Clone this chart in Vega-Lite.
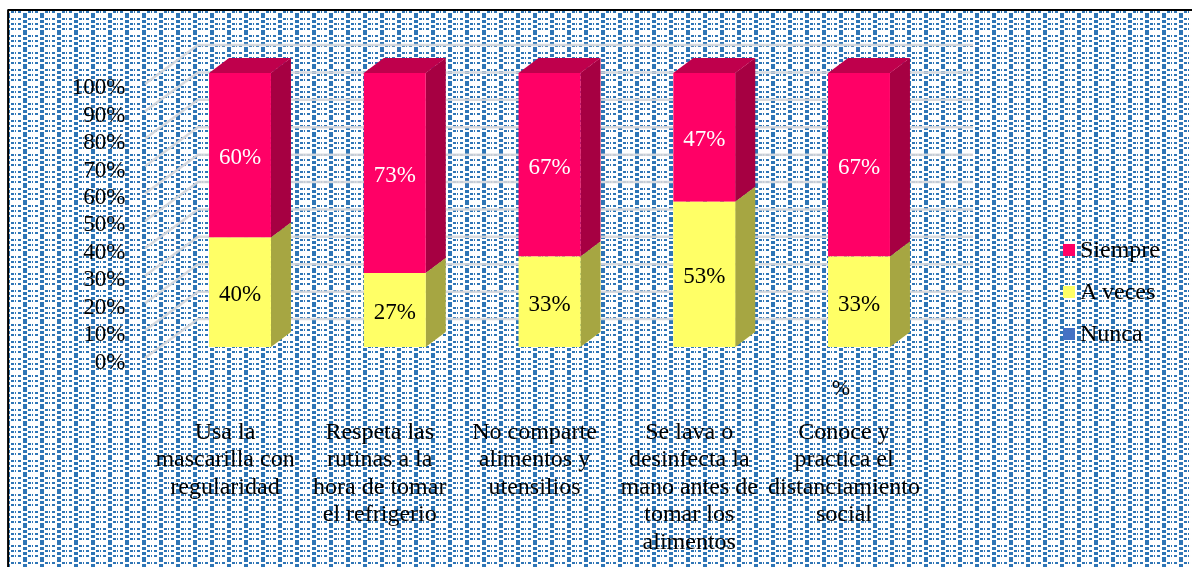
{
"$schema":"https://vega.github.io/schema/vega-lite/v6.json",
"width":1192,"height":567,"padding":0,"autosize":{"type":"none"},"background":"white",
"config":{"view":{"stroke":null},"font":"Liberation Serif"},
"datasets":{
"valores":[
{"i":1,"resp":"Siempre","v":60},{"i":1,"resp":"A veces","v":40},{"i":1,"resp":"Nunca","v":0},
{"i":2,"resp":"Siempre","v":73},{"i":2,"resp":"A veces","v":27},{"i":2,"resp":"Nunca","v":0},
{"i":3,"resp":"Siempre","v":67},{"i":3,"resp":"A veces","v":33},{"i":3,"resp":"Nunca","v":0},
{"i":4,"resp":"Siempre","v":47},{"i":4,"resp":"A veces","v":53},{"i":4,"resp":"Nunca","v":0},
{"i":5,"resp":"Siempre","v":67},{"i":5,"resp":"A veces","v":33},{"i":5,"resp":"Nunca","v":0}],
"categorias":[
{"i":1,"etiqueta":"Usa la|mascarilla con|regularidad"},
{"i":2,"etiqueta":"Respeta las|rutinas a la|hora de tomar|el refrigerio"},
{"i":3,"etiqueta":"No comparte|alimentos y|utensilios"},
{"i":4,"etiqueta":"Se lava o|desinfecta la|mano antes de|tomar los|alimentos"},
{"i":5,"etiqueta":"Conoce y|practica el|distanciamiento|social"}],
"niveles":[{"g":0},{"g":10},{"g":20},{"g":30},{"g":40},{"g":50},{"g":60},{"g":70},{"g":80},{"g":90},{"g":100}],
"uno":[{"f":1}]
},
"layer":[
{"data":{"name":"uno"},"mark":{"type":"rule","color":"white","strokeWidth":557},
 "encoding":{"x":{"datum":-0.4927,"type":"quantitative","axis":null,"scale":{"domain":[-0.5509,7.1518],"nice":false,"zero":false}},"x2":{"datum":7.1389},
 "y":{"datum":21.35,"type":"quantitative","scale":{"domain":[-80.29,126.64],"nice":false,"zero":false},
  "axis":{"values":[0,10,20,30,40,50,60,70,80,90,100],"labelExpr":"datum.value+'%'","title":null,"domain":false,"ticks":false,"grid":false,"offset":-125,"labelPadding":0,"labelOffset":14,"labelFont":"Liberation Serif","labelFontSize":23,"labelColor":"black","zindex":1,"labelOverlap":false,"labelBound":false,"labelFlush":false}}}},
{"data":{"name":"uno"},"mark":{"type":"rule","color":"white","blend":"difference","strokeWidth":557,"strokeDash":[4,13],"strokeDashOffset":3},
 "encoding":{"x":{"datum":-0.4927,"type":"quantitative","axis":null},"x2":{"datum":7.1389},"y":{"datum":21.35,"type":"quantitative"}}},
{"data":{"name":"uno"},"mark":{"type":"rule","color":"white","blend":"difference","strokeWidth":1181,"strokeDash":[2,5,2,3,2,3],"strokeDashOffset":16},
 "encoding":{"x":{"datum":3.3231,"type":"quantitative","axis":null},"y":{"datum":122.99,"type":"quantitative"},"y2":{"datum":-80.29}}},
{"data":{"name":"uno"},"mark":{"type":"rule","color":"white","strokeWidth":557,"strokeDash":[1,3,1,1,2,3,2,4],"strokeDashOffset":16},
 "encoding":{"x":{"datum":-0.4927,"type":"quantitative","axis":null},"x2":{"datum":7.1389},"y":{"datum":21.35,"type":"quantitative"}}},
{"data":{"name":"uno"},"mark":{"type":"rule","color":"#2e75b6","blend":"screen","strokeWidth":557},
 "encoding":{"x":{"datum":-0.4927,"type":"quantitative","axis":null},"x2":{"datum":7.1389},"y":{"datum":21.35,"type":"quantitative"}}},
{"data":{"name":"uno"},"mark":{"type":"rule","color":"black","strokeWidth":2},
 "encoding":{"x":{"datum":-0.5,"type":"quantitative","axis":null},"x2":{"datum":7.1518},"y":{"datum":123.0,"type":"quantitative"}}},
{"data":{"name":"uno"},"mark":{"type":"rule","color":"black","strokeWidth":2},
 "encoding":{"x":{"datum":-0.4986,"type":"quantitative","axis":null},"y":{"datum":123.2,"type":"quantitative"},"y2":{"datum":-80.29}}},
{"data":{"name":"niveles"},
 "transform":[{"calculate":"[0,1,2]","as":"k"},{"flatten":["k"]},
  {"calculate":"[0.3861,0.7286,5.7367][datum.k]","as":"gx"},{"calculate":"datum.g+[-4,10.2,10.2][datum.k]","as":"gy"}],
 "mark":{"type":"line","color":"#d4d6da","strokeWidth":2.5,"opacity":0.9},
 "encoding":{"x":{"field":"gx","type":"quantitative","axis":null},"y":{"field":"gy","type":"quantitative"},"detail":{"field":"g"}}},
{"data":{"name":"valores"},
 "transform":[{"stack":"v","groupby":["i"],"sort":[{"field":"resp","order":"ascending"}],"as":["y0","y1"]},
  {"calculate":"[0,1]","as":"t"},{"flatten":["t"]},
  {"calculate":"datum.i+0.2+datum.t*0.1292","as":"sx"},{"calculate":"datum.y1+datum.t*5.47","as":"st"},{"calculate":"datum.y0+datum.t*5.47","as":"sb"}],
 "layer":[
  {"mark":{"type":"area","orient":"vertical"},
   "encoding":{"x":{"field":"sx","type":"quantitative","axis":null},"y":{"field":"st","type":"quantitative"},"y2":{"field":"sb"},"detail":{"field":"i"},"color":{"field":"resp","type":"nominal"}}},
  {"mark":{"type":"area","orient":"vertical","color":"black","opacity":0.35},
   "encoding":{"x":{"field":"sx","type":"quantitative","axis":null},"y":{"field":"st","type":"quantitative"},"y2":{"field":"sb"},"detail":[{"field":"i"},{"field":"resp"}]}}
 ]},
{"data":{"name":"valores"},
 "transform":[{"filter":"datum.resp==='Siempre'"},{"calculate":"[0,1,2,3]","as":"k"},{"flatten":["k"]},
  {"calculate":"datum.i+[-0.2,-0.0708,0.2,0.3292][datum.k]","as":"tx"},
  {"calculate":"100+[0,5.47,5.47,5.47][datum.k]","as":"tt"},{"calculate":"100+[0,0,0,5.47][datum.k]","as":"tb"}],
 "mark":{"type":"area","orient":"vertical","color":"#bf004c"},
 "encoding":{"x":{"field":"tx","type":"quantitative","axis":null},"y":{"field":"tt","type":"quantitative"},"y2":{"field":"tb"},"detail":{"field":"i"}}},
{"data":{"name":"valores"},
 "transform":[{"stack":"v","groupby":["i"],"sort":[{"field":"resp","order":"ascending"}],"as":["y0","y1"]},
  {"calculate":"datum.i-0.2","as":"xl"},{"calculate":"datum.i+0.2","as":"xr"}],
 "mark":{"type":"rect"},
 "encoding":{"x":{"field":"xl","type":"quantitative","axis":null},"x2":{"field":"xr"},"y":{"field":"y0","type":"quantitative"},"y2":{"field":"y1"},
  "color":{"field":"resp","type":"nominal","scale":{"domain":["Siempre","A veces","Nunca"],"range":["#ff0066","#ffff66","#4472c4"]},
   "legend":{"title":null,"orient":"none","legendX":1057,"legendY":238,"symbolType":"square","symbolSize":144,"symbolStrokeWidth":0,"labelFont":"Liberation Serif","labelFontSize":24,"labelColor":"black","rowPadding":18,"labelOffset":-1,"labelLimit":200}}}},
{"data":{"name":"valores"},
 "transform":[{"filter":"datum.v>0"},{"stack":"v","groupby":["i"],"sort":[{"field":"resp","order":"ascending"}],"as":["y0","y1"]},
  {"calculate":"(datum.y0+datum.y1)/2","as":"ym"},{"calculate":"datum.v+'%'","as":"rotulo"}],
 "mark":{"type":"text","font":"Liberation Serif","fontSize":23,"baseline":"middle","dy":2},
 "encoding":{"x":{"field":"i","type":"quantitative","axis":null},"y":{"field":"ym","type":"quantitative"},"text":{"field":"rotulo"},
  "color":{"condition":{"test":"datum.resp==='Siempre'","value":"white"},"value":"black"}}},
{"data":{"name":"categorias"},
 "transform":[{"calculate":"datum.i-0.0969","as":"cx"}],
 "mark":{"type":"text","font":"Liberation Serif","fontSize":24,"baseline":"top","lineBreak":"|","lineHeight":27.5,"color":"black"},
 "encoding":{"x":{"field":"cx","type":"quantitative","axis":null},"y":{"datum":-26.64,"type":"quantitative"},"text":{"field":"etiqueta"}}},
{"data":{"name":"uno"},"mark":{"type":"text","font":"Liberation Serif","fontSize":22,"color":"black"},
 "encoding":{"x":{"datum":4.8837,"type":"quantitative","axis":null},"y":{"datum":-14.96,"type":"quantitative"},"text":{"value":"%"}}}
]
}
